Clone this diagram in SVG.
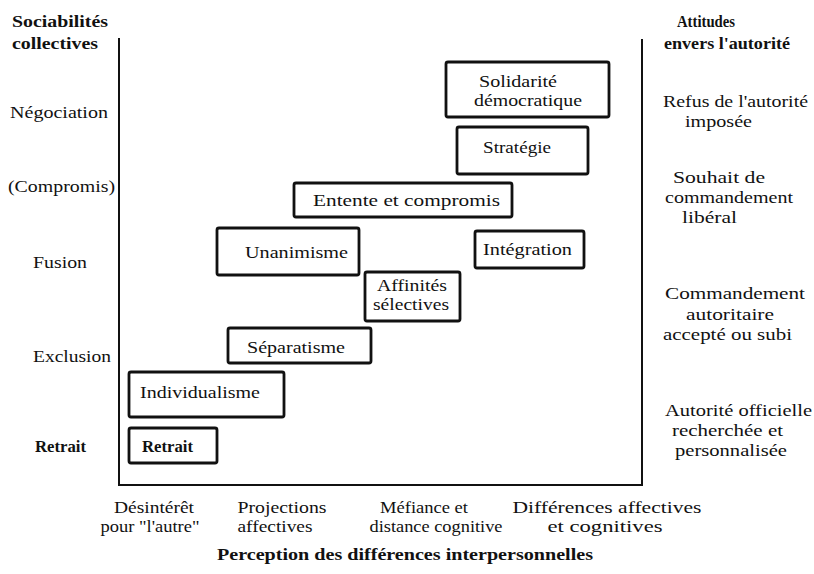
<svg xmlns="http://www.w3.org/2000/svg" width="814" height="574" viewBox="0 0 814 574" font-family="'Liberation Serif', 'DejaVu Serif', serif">
<style>
text{font-family:"Liberation Serif","DejaVu Serif",serif;font-size:17px;fill:#111;}
.b{font-weight:bold;}
.m{text-anchor:middle;}
.box{fill:#fff;stroke:#111;stroke-width:2.8;}
.ax{stroke:#111;stroke-width:2;fill:none;}
</style>
<rect width="814" height="574" fill="#fff"/>
<g id="axes">
<line class="ax" x1="119" y1="38" x2="119" y2="486"/>
<line class="ax" x1="642" y1="39" x2="642" y2="486"/>
<line class="ax" x1="118" y1="485" x2="643" y2="485"/>
</g>
<g id="left-axis-labels">
<text class="b" x="12" y="27" textLength="96" lengthAdjust="spacingAndGlyphs">Sociabilités</text>
<text class="b" x="12" y="49" textLength="86" lengthAdjust="spacingAndGlyphs">collectives</text>
<text x="10" y="118" textLength="98" lengthAdjust="spacingAndGlyphs">Négociation</text>
<text x="8" y="192" textLength="107" lengthAdjust="spacingAndGlyphs">(Compromis)</text>
<text x="33" y="268" textLength="54" lengthAdjust="spacingAndGlyphs">Fusion</text>
<text x="33" y="362" textLength="78" lengthAdjust="spacingAndGlyphs">Exclusion</text>
<text class="b" x="35" y="452" textLength="51" lengthAdjust="spacingAndGlyphs">Retrait</text>
</g>
<g id="right-axis-labels">
<text class="b" x="677" y="27" textLength="58" lengthAdjust="spacingAndGlyphs">Attitudes</text>
<text class="b" x="664" y="49" textLength="126" lengthAdjust="spacingAndGlyphs">envers l'autorité</text>
<text x="663" y="107" textLength="145" lengthAdjust="spacingAndGlyphs">Refus de l'autorité</text>
<text x="685" y="127" textLength="67" lengthAdjust="spacingAndGlyphs">imposée</text>
<text x="673" y="183" textLength="92" lengthAdjust="spacingAndGlyphs">Souhait de</text>
<text x="665" y="203" textLength="128" lengthAdjust="spacingAndGlyphs">commandement</text>
<text x="682" y="223" textLength="55" lengthAdjust="spacingAndGlyphs">libéral</text>
<text x="665" y="299" textLength="140" lengthAdjust="spacingAndGlyphs">Commandement</text>
<text x="686" y="320" textLength="88" lengthAdjust="spacingAndGlyphs">autoritaire</text>
<text x="663" y="340" textLength="129" lengthAdjust="spacingAndGlyphs">accepté ou subi</text>
<text x="665" y="416" textLength="147" lengthAdjust="spacingAndGlyphs">Autorité officielle</text>
<text x="672" y="436" textLength="111" lengthAdjust="spacingAndGlyphs">recherchée et</text>
<text x="675" y="456" textLength="112" lengthAdjust="spacingAndGlyphs">personnalisée</text>
</g>
<g id="bottom-axis-labels">
<text class="m" x="154" y="513" textLength="80" lengthAdjust="spacingAndGlyphs">Désintérêt</text>
<text class="m" x="150" y="532" textLength="99" lengthAdjust="spacingAndGlyphs">pour "l'autre"</text>
<text class="m" x="282" y="513" textLength="89" lengthAdjust="spacingAndGlyphs">Projections</text>
<text class="m" x="275" y="532" textLength="75" lengthAdjust="spacingAndGlyphs">affectives</text>
<text class="m" x="424" y="513" textLength="88" lengthAdjust="spacingAndGlyphs">Méfiance et</text>
<text class="m" x="436" y="532" textLength="133" lengthAdjust="spacingAndGlyphs">distance cognitive</text>
<text class="m" x="607" y="513" textLength="189" lengthAdjust="spacingAndGlyphs">Différences affectives</text>
<text class="m" x="605" y="532" textLength="115" lengthAdjust="spacingAndGlyphs">et cognitives</text>
<text class="m b" x="405" y="560" textLength="376" lengthAdjust="spacingAndGlyphs">Perception des différences interpersonnelles</text>
</g>
<g id="node-solidarite">
<rect class="box" x="446" y="62" width="163" height="55" rx="2"/>
<text x="479" y="87" font-size="16" style="font-size:16px" textLength="78" lengthAdjust="spacingAndGlyphs">Solidarité</text>
<text x="474" y="106" font-size="16" style="font-size:16px" textLength="108" lengthAdjust="spacingAndGlyphs">démocratique</text>
</g>
<g id="node-strategie">
<rect class="box" x="457" y="127" width="131" height="47" rx="2"/>
<text x="483" y="153" textLength="68" lengthAdjust="spacingAndGlyphs">Stratégie</text>
</g>
<g id="node-entente">
<rect class="box" x="294" y="183" width="218" height="34" rx="2"/>
<text x="313" y="206" textLength="187" lengthAdjust="spacingAndGlyphs">Entente et compromis</text>
</g>
<g id="node-unanimisme">
<rect class="box" x="217" y="228" width="142" height="47" rx="2"/>
<text x="245" y="258" textLength="103" lengthAdjust="spacingAndGlyphs">Unanimisme</text>
</g>
<g id="node-integration">
<rect class="box" x="475" y="231" width="109" height="37" rx="2"/>
<text x="483" y="255" textLength="89" lengthAdjust="spacingAndGlyphs">Intégration</text>
</g>
<g id="node-affinites">
<rect class="box" x="365" y="272" width="95" height="49" rx="2"/>
<text x="377" y="291" textLength="70" lengthAdjust="spacingAndGlyphs">Affinités</text>
<text x="373" y="310" textLength="76" lengthAdjust="spacingAndGlyphs">sélectives</text>
</g>
<g id="node-separatisme">
<rect class="box" x="228" y="328" width="143" height="35" rx="2"/>
<text x="247" y="353" textLength="98" lengthAdjust="spacingAndGlyphs">Séparatisme</text>
</g>
<g id="node-individualisme">
<rect class="box" x="129" y="372" width="155" height="45" rx="2"/>
<text x="140" y="398" textLength="120" lengthAdjust="spacingAndGlyphs">Individualisme</text>
</g>
<g id="node-retrait">
<rect class="box" x="129" y="428" width="88" height="35" rx="2"/>
<text class="b" x="142" y="452" textLength="51" lengthAdjust="spacingAndGlyphs">Retrait</text>
</g>
</svg>
